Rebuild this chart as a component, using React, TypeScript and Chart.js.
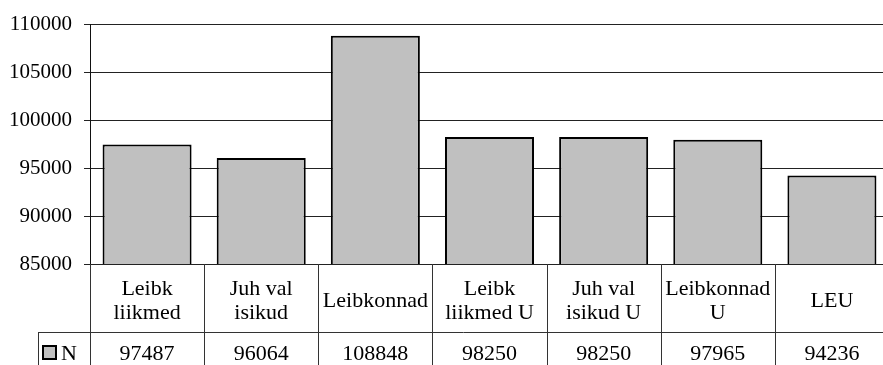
import React, { useEffect, useRef } from "react";
import { Chart, registerables } from "chart.js";

Chart.register(...registerables);

// ---- data ----
const categories: string[][] = [
  ["Leibk", "liikmed"],
  ["Juh val", "isikud"],
  ["Leibkonnad"],
  ["Leibk", "liikmed U"],
  ["Juh val", "isikud U"],
  ["Leibkonnad", "U"],
  ["LEU"],
];
const seriesName = "N";
const values: number[] = [97487, 96064, 108848, 98250, 98250, 97965, 94236];
const yMin = 85000;
const yMax = 110000;
const yStep = 5000;

const TABLE_FONT = "22px 'Liberation Serif', 'Times New Roman', serif";
const BAR_FILL = "#c0c0c0";

const tablePlugin = {
  id: "dataTable",
  afterDraw(chart: any) {
    const { ctx, chartArea } = chart;
    const n = values.length;
    const cw = chartArea.width / n;
    const top = chartArea.bottom;
    const rowSplit = top + 68;
    const bottom = chart.height + 2;
    const line = (x1: number, y1: number, x2: number, y2: number) => {
      ctx.beginPath();
      ctx.moveTo(x1, y1);
      ctx.lineTo(x2, y2);
      ctx.stroke();
    };
    ctx.save();
    ctx.strokeStyle = "#333";
    ctx.lineWidth = 1;
    for (let i = 0; i <= n; i++) {
      const x = Math.round(chartArea.left + i * cw) + 0.5;
      line(x, top, x, bottom);
    }
    const ry = Math.round(rowSplit) + 0.5;
    line(38, ry, chartArea.right, ry);
    line(38.5, ry, 38.5, bottom);

    ctx.fillStyle = "#000";
    ctx.font = TABLE_FONT;
    ctx.textAlign = "center";
    ctx.textBaseline = "alphabetic";
    const xs = chart.scales.x;
    categories.forEach((lines, i) => {
      const cx = xs.getPixelForValue(i);
      const mid = top + 43;
      const lh = 24.5;
      lines.forEach((t, j) => {
        const y = mid + (j - (lines.length - 1) / 2) * lh;
        ctx.fillText(t, cx, y);
      });
      ctx.fillText(String(values[i]), cx, rowSplit + 28);
    });

    // legend key
    ctx.fillStyle = BAR_FILL;
    ctx.fillRect(43, rowSplit + 14, 13, 13);
    ctx.strokeStyle = "#000";
    ctx.lineWidth = 2;
    ctx.strokeRect(43, rowSplit + 14, 13, 13);
    ctx.fillStyle = "#000";
    ctx.textAlign = "left";
    ctx.fillText(seriesName, 61, rowSplit + 28);
    ctx.restore();
  },
};

export default function App() {
  const ref = useRef<HTMLCanvasElement | null>(null);
  useEffect(() => {
    if (!ref.current) return;
    const chart = new Chart(ref.current, {
      type: "bar",
      data: {
        labels: categories.map((c) => c.join(" ")),
        datasets: [
          {
            label: seriesName,
            data: values,
            backgroundColor: BAR_FILL,
            borderColor: "#000",
            borderWidth: 2,
            borderSkipped: false,
            categoryPercentage: 1,
            barPercentage: 0.78,
          },
        ],
      },
      options: {
        responsive: false,
        maintainAspectRatio: false,
        animation: false,
        devicePixelRatio: 1,
        layout: { padding: { left: 0, top: 21, right: 11, bottom: 101 } },
        plugins: { legend: { display: false }, tooltip: { enabled: false } },
        scales: {
          x: { display: false },
          y: {
            min: yMin,
            max: yMax,
            ticks: {
              stepSize: yStep,
              color: "#000",
              padding: 12,
              font: { family: "'Liberation Serif', 'Times New Roman', serif", size: 21 },
              callback: (v: any) => String(v),
            },
            grid: { color: "#222", lineWidth: 1, tickLength: 6, drawTicks: true },
            border: { display: true, color: "#111", width: 1 },
            afterFit: (s: any) => {
              s.width = 90;
            },
          },
        },
      },
      plugins: [tablePlugin],
    });
    return () => chart.destroy();
  }, []);
  return (
    <div
      style={{
        position: "fixed",
        left: 0,
        top: 0,
        width: 883,
        height: 365,
        overflow: "hidden",
        background: "#fff",
      }}
    >
      <canvas ref={ref} width={900} height={365} style={{ width: 900, height: 365, display: "block" }} />
    </div>
  );
}
